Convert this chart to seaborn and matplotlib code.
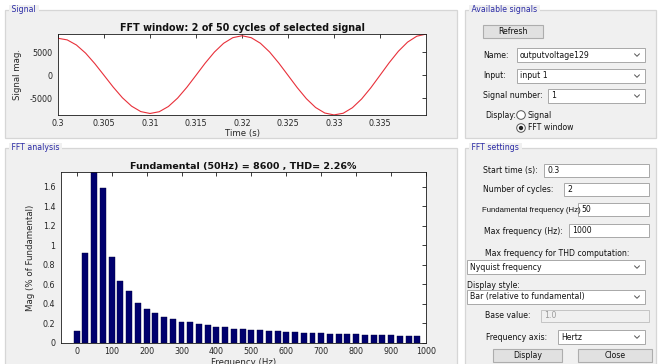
import matplotlib
matplotlib.use("Agg")
import matplotlib.pyplot as plt
import pandas as pd
import seaborn as sns
from matplotlib.patches import Rectangle, Circle
from matplotlib.lines import Line2D
from matplotlib.transforms import IdentityTransform

# ---------------- data ----------------
time_s = [0.300, 0.301, 0.302, 0.303, 0.304, 0.305, 0.306, 0.307, 0.308, 0.309,
          0.310, 0.311, 0.312, 0.313, 0.314, 0.315, 0.316, 0.317, 0.318, 0.319,
          0.320, 0.321, 0.322, 0.323, 0.324, 0.325, 0.326, 0.327, 0.328, 0.329,
          0.330, 0.331, 0.332, 0.333, 0.334, 0.335, 0.336, 0.337, 0.338, 0.339,
          0.340]
signal_mag = [8050, 7700, 6590, 4820, 2540, 0, -2560, -4880, -6710, -7890,
              -8300, -7920, -6780, -4960, -2620, 0, 2650, 5050, 6960, 8180,
              8600, 8180, 6970, 5070, 2660, 0, -2670, -5090, -7000, -8200,
              -8610, -8250, -7050, -5150, -2720, 0, 2740, 5230, 7220, 8500,
              8960]

freq_hz = [0, 25, 50, 75, 100, 125, 150, 175, 200, 225,
           250, 275, 300, 325, 350, 375, 400, 425, 450, 475,
           500, 525, 550, 575, 600, 625, 650, 675, 700, 725,
           750, 775, 800, 825, 850, 875, 900, 925, 950, 975]
mag_pct = [0.12, 0.92, 1.76, 1.59, 0.88, 0.63, 0.53, 0.41, 0.35, 0.31,
           0.27, 0.25, 0.22, 0.21, 0.19, 0.18, 0.165, 0.16, 0.145, 0.14,
           0.135, 0.13, 0.12, 0.12, 0.115, 0.11, 0.105, 0.10, 0.10, 0.095,
           0.095, 0.09, 0.09, 0.085, 0.085, 0.08, 0.08, 0.075, 0.075, 0.075]

time_ticks = [0.3, 0.305, 0.31, 0.315, 0.32, 0.325, 0.33, 0.335]
time_tick_labels = ["0.3", "0.305", "0.31", "0.315", "0.32", "0.325", "0.33", "0.335"]
sig_ticks = [-5000, 0, 5000]
sig_tick_labels = ["-5000", "0", "5000"]
freq_ticks = [0, 100, 200, 300, 400, 500, 600, 700, 800, 900, 1000]
mag_ticks = [0, 0.2, 0.4, 0.6, 0.8, 1.0, 1.2, 1.4, 1.6]
mag_tick_labels = ["0", "0.2", "0.4", "0.6", "0.8", "1", "1.2", "1.4", "1.6"]

top_title = "FFT window: 2 of 50 cycles of selected signal"
bottom_title = "Fundamental (50Hz) = 8600 , THD= 2.26%"

# ---------------- style ----------------
sns.set_style("white")
plt.rcParams['font.family'] = ['DejaVu Sans']
W, H = 660, 364
fig = plt.figure(figsize=(6.6, 3.64), dpi=100)
fig.patch.set_facecolor('white')
IT = IdentityTransform()

GUI_FS = 5.6
PANEL_TITLE_C = '#2b2ba6'


def rect(x0, y0, x1, y1, fc, ec, lw=0.8, z=0):
    fig.add_artist(Rectangle((x0, H - y1), x1 - x0, y1 - y0, transform=IT,
                             facecolor=fc, edgecolor=ec, lw=lw, zorder=z))


def txt(x, y, s, ha='left', color='#111111', fs=GUI_FS, **kw):
    fig.text(x, H - y, s, transform=IT, ha=ha, va='center', color=color,
             fontsize=fs, **kw)


def panel(x0, y0, x1, y1, title):
    rect(x0, y0, x1, y1, '#f0f0f0', '#d6d6d6', lw=0.9, z=-5)
    fig.text(x0 + 4, H - y0, " " + title + " ", transform=IT, ha='left',
             va='center', color=PANEL_TITLE_C, fontsize=GUI_FS,
             bbox=dict(facecolor='#f0f0f0', edgecolor='none', pad=0.3))


def chevron(xc, yc):
    fig.add_artist(Line2D([xc - 2.5, xc, xc + 2.5], [H - yc + 1.2, H - yc - 1.3, H - yc + 1.2],
                          transform=IT, color='#555555', lw=0.7))


def editbox(x0, y0, x1, y1, s, disabled=False):
    if disabled:
        rect(x0, y0, x1, y1, '#f0f0f0', '#c4c4c4', lw=0.7)
        txt(x0 + 3, (y0 + y1) / 2, s, color='#9a9a9a')
    else:
        rect(x0, y0, x1, y1, 'white', '#a8a8a8', lw=0.7)
        txt(x0 + 3, (y0 + y1) / 2, s)


def dropdown(x0, y0, x1, y1, s):
    rect(x0, y0, x1, y1, 'white', '#a8a8a8', lw=0.7)
    txt(x0 + 3, (y0 + y1) / 2, s)
    chevron(x1 - 8, (y0 + y1) / 2)


def button(x0, y0, x1, y1, s):
    rect(x0, y0, x1, y1, '#e1e1e1', '#adadad', lw=0.8)
    txt((x0 + x1) / 2, (y0 + y1) / 2, s, ha='center')


# ---------------- panels ----------------
panel(5, 10, 457, 138, "Signal")
panel(465, 10, 656, 138, "Available signals")
panel(5, 148, 457, 372, "FFT analysis")
panel(465, 148, 656, 372, "FFT settings")

# Available signals widgets
button(483, 25, 543, 38, "Refresh")
txt(483, 55, "Name:")
dropdown(517, 48, 645, 62, "outputvoltage129")
txt(483, 76, "Input:")
dropdown(517, 69, 645, 83, "input 1")
txt(483, 96, "Signal number:")
dropdown(548, 89, 645, 103, "1")
txt(485, 115, "Display:")
for yc, lab, on in [(115, "Signal", False), (128, "FFT window", True)]:
    fig.add_artist(Circle((521, H - yc), 4.3, transform=IT, facecolor='white',
                          edgecolor='#555555', lw=0.7))
    if on:
        fig.add_artist(Circle((521, H - yc), 2.2, transform=IT, facecolor='#222222',
                              edgecolor='none'))
    txt(528, yc, lab)

# FFT settings widgets
txt(483, 171, "Start time (s):")
editbox(544, 164, 649, 177, "0.3")
txt(483, 190, "Number of cycles:")
editbox(564, 183, 649, 196, "2")
txt(482, 210, "Fundamental frequency (Hz)", fs=5.55, family=['Liberation Sans', 'DejaVu Sans'])
editbox(578, 203, 649, 216, "50")
txt(484, 231, "Max frequency (Hz):")
editbox(569, 224, 649, 237, "1000")
txt(485, 253, "Max frequency for THD computation:")
dropdown(467, 260, 645, 274, "Nyquist frequency")
txt(467, 285, "Display style:")
dropdown(467, 290, 645, 304, "Bar (relative to fundamental)")
txt(485, 316, "Base value:")
editbox(541, 310, 649, 322, "1.0", disabled=True)
txt(486, 337, "Frequency axis:")
dropdown(558, 330, 645, 344, "Hertz")
button(493, 349, 562, 362, "Display")
button(578, 349, 652, 362, "Close")


# ---------------- axes ----------------
def ax_px(x0, y0, x1, y1):
    return fig.add_axes([x0 / W, 1 - y1 / H, (x1 - x0) / W, (y1 - y0) / H])


TICK_FS = 5.8
LABEL_FS = 6.2
AX_TXT_C = '#262626'


def style_axes(ax):
    ax.set_facecolor('white')
    for sp in ax.spines.values():
        sp.set_visible(True)
        sp.set_color('#1a1a1a')
        sp.set_linewidth(0.6)
    ax.tick_params(direction='in', length=3, width=0.6, top=True, right=True,
                   labelsize=TICK_FS, labelcolor=AX_TXT_C, colors='#1a1a1a', pad=3)
    for lab in ax.get_xticklabels() + ax.get_yticklabels():
        lab.set_color(AX_TXT_C)


# Top: signal
ax1 = ax_px(58, 34, 426, 115)
df_sig = pd.DataFrame({"t": time_s, "v": signal_mag})
sns.lineplot(data=df_sig, x="t", y="v", ax=ax1, color='#e8303a', lw=0.8)
ax1.set_xlim(0.3, 0.34)
ax1.set_ylim(-8630, 8980)
ax1.set_xticks(time_ticks)
ax1.set_xticklabels(time_tick_labels)
ax1.set_yticks(sig_ticks)
ax1.set_yticklabels(sig_tick_labels)
style_axes(ax1)
ax1.tick_params(axis='y', labelsize=TICK_FS, pad=4)
ax1.set_xlabel("Time (s)", fontsize=LABEL_FS, color=AX_TXT_C)
ax1.set_ylabel("Signal mag.", fontsize=LABEL_FS, color=AX_TXT_C)
ax1.xaxis.set_label_coords(0.5, -0.175)
ax1.yaxis.set_label_coords(-0.097, 0.5)
ax1.set_title(top_title, fontsize=6.9, fontweight='bold', color='#111111', pad=2.5)

# Bottom: FFT bars
ax2 = ax_px(61, 172, 426, 343)
df_fft = pd.DataFrame({"f": freq_hz, "m": mag_pct})
sns.barplot(data=df_fft, x="f", y="m", ax=ax2, native_scale=True, width=0.68,
            color='#00006e', saturation=1, edgecolor='#00003a', linewidth=0.3,
            errorbar=None)
ax2.set_xlim(-45, 1000)
ax2.set_ylim(0, 1.75)
ax2.set_xticks(freq_ticks)
ax2.set_xticklabels([str(f) for f in freq_ticks])
ax2.set_yticks(mag_ticks)
ax2.set_yticklabels(mag_tick_labels)
style_axes(ax2)
ax2.tick_params(axis='y', pad=4)
ax2.set_xlabel("Frequency (Hz)", fontsize=LABEL_FS, color=AX_TXT_C)
ax2.set_ylabel("Mag (% of Fundamental)", fontsize=LABEL_FS, color=AX_TXT_C)
ax2.xaxis.set_label_coords(0.5, -0.085)
ax2.yaxis.set_label_coords(-0.071, 0.5)
ax2.set_title(bottom_title, fontsize=6.8, fontweight='bold', color='#111111', pad=2.5)

fig.savefig("out.png", dpi=100, facecolor='white')
